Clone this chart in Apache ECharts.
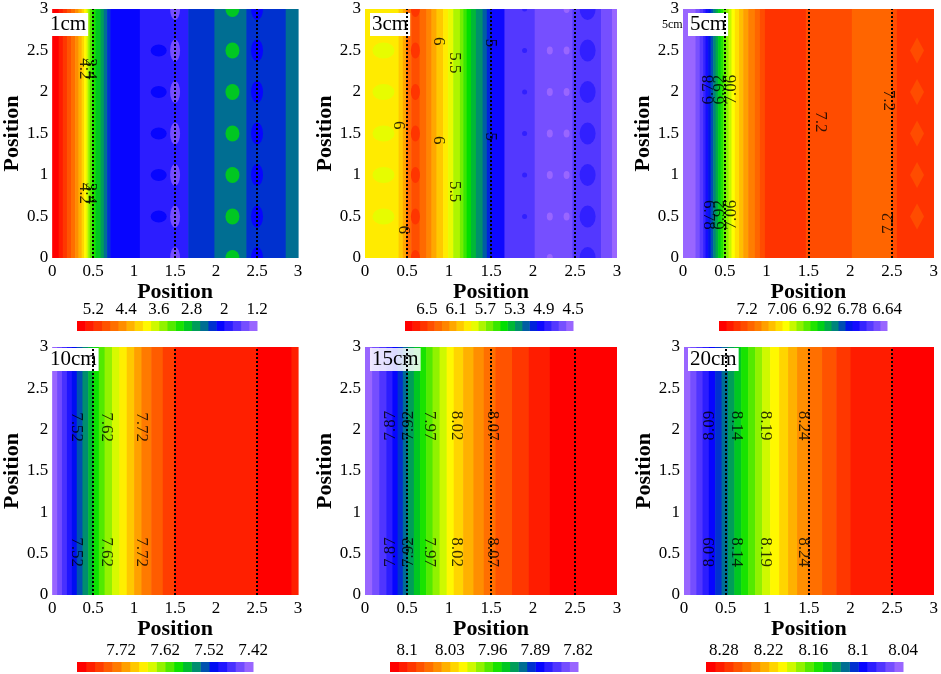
<!DOCTYPE html>
<html>
<head>
<meta charset="utf-8">
<title>Contours by depth</title>
<script src="https://cdn.jsdelivr.net/npm/echarts@6/dist/echarts.min.js"></script>
<style>
  html, body { margin: 0; padding: 0; background: #fff; }
  #chart { width: 941px; height: 674px; }
</style>
</head>
<body>
<div id="chart"></div>
<script>
// Panel names
const depths = ['1cm', '3cm', '5cm', '10cm', '15cm', '20cm'];

// Contour levels of each panel: [lowest, highest, step]
const levels1 = [1.2, 5.6, 0.2];
const levels2 = [4.5, 6.8, 0.1];
const levels3 = [6.64, 7.312, 0.028];
const levels4 = [7.42, 7.82, 0.02];
const levels5 = [7.82, 8.128, 0.014];
const levels6 = [8.04, 8.304, 0.012];

// Colour bar tick labels
const ticks1 = [5.2, 4.4, 3.6, 2.8, 2, 1.2];
const ticks2 = [6.5, 6.1, 5.7, 5.3, 4.9, 4.5];
const ticks3 = [7.2, 7.06, 6.92, 6.78, 6.64];
const ticks4 = [7.72, 7.62, 7.52, 7.42];
const ticks5 = [8.1, 8.03, 7.96, 7.89, 7.82];
const ticks6 = [8.28, 8.22, 8.16, 8.1, 8.04];

// Bands along x: edges and the value inside each band
const edges1 = [0, 0.08, 0.13, 0.18, 0.23, 0.28, 0.32, 0.36, 0.39, 0.42, 0.44, 0.46, 0.49, 0.53, 0.59, 0.63, 0.67, 0.71, 1.07, 1.66, 1.98, 2.37, 2.85, 3];
const vals1 = [5.5, 5.3, 5.1, 4.9, 4.7, 4.5, 4.3, 4.1, 3.9, 3.7, 3.5, 3.3, 3.1, 2.9, 2.7, 2.5, 2.3, 2.1, 1.9, 2.3, 2.5, 2.3, 2.5];

const edges2 = [0, 0.40, 0.45, 0.49, 0.55, 0.65, 0.73, 0.79, 0.85, 0.93, 0.99, 1.05, 1.13, 1.17, 1.21, 1.26, 1.32, 1.40, 1.45, 1.50, 1.66, 2.02, 2.47, 2.81, 2.94, 3];
const vals2 = [5.95, 6.05, 6.15, 6.35, 6.45, 6.35, 6.25, 6.15, 6.05, 5.95, 5.85, 5.75, 5.65, 5.55, 5.45, 5.35, 5.25, 5.15, 5.05, 4.95, 4.75, 4.65, 4.75, 4.65, 4.55];

const edges3 = [0, 0.15, 0.2, 0.24, 0.27, 0.30, 0.33, 0.36, 0.39, 0.42, 0.45, 0.48, 0.51, 0.545, 0.58, 0.62, 0.67, 0.72, 0.78, 0.86, 0.92, 0.98, 1.47, 2.02, 2.5, 2.56, 3];
const vals3 = [6.654, 6.682, 6.71, 6.738, 6.766, 6.794, 6.822, 6.85, 6.878, 6.906, 6.934, 6.962, 6.99, 7.018, 7.046, 7.074, 7.102, 7.13, 7.158, 7.186, 7.214, 7.242, 7.214, 7.186, 7.214, 7.242];

const edges4 = [0, 0.06, 0.12, 0.18, 0.24, 0.30, 0.37, 0.44, 0.50, 0.57, 0.64, 0.73, 0.82, 0.91, 1.00, 1.09, 1.21, 1.35, 1.49, 2.5, 2.92, 3];
const vals4 = [7.43, 7.45, 7.47, 7.49, 7.51, 7.53, 7.55, 7.57, 7.59, 7.61, 7.63, 7.65, 7.67, 7.69, 7.71, 7.73, 7.75, 7.77, 7.79, 7.81, 7.79];

const edges5 = [0, 0.084, 0.168, 0.252, 0.326, 0.388, 0.45, 0.511, 0.582, 0.655, 0.728, 0.804, 0.888, 0.972, 1.056, 1.168, 1.291, 1.414, 1.554, 1.75, 1.95, 2.2, 3];
const vals5 = [7.827, 7.841, 7.855, 7.869, 7.883, 7.897, 7.911, 7.925, 7.939, 7.953, 7.967, 7.981, 7.995, 8.009, 8.023, 8.037, 8.051, 8.065, 8.079, 8.093, 8.107, 8.121];

const edges6 = [0, 0.074, 0.149, 0.223, 0.298, 0.374, 0.451, 0.528, 0.604, 0.686, 0.77, 0.854, 0.938, 1.034, 1.142, 1.25, 1.358, 1.487, 1.658, 1.829, 2.0, 2.5, 3];
const vals6 = [8.046, 8.058, 8.07, 8.082, 8.094, 8.106, 8.118, 8.13, 8.142, 8.154, 8.166, 8.178, 8.19, 8.202, 8.214, 8.226, 8.238, 8.25, 8.262, 8.274, 8.286, 8.298];

// Local spots [x, y, value]
const spots1Green = [[2.2, 0, 2.9], [2.2, 0.5, 2.9], [2.2, 1, 2.9], [2.2, 1.5, 2.9], [2.2, 2, 2.9], [2.2, 2.5, 2.9], [2.2, 3, 2.9]];
const spots1Purple = [[1.5, 0, 1.5], [1.5, 0.5, 1.5], [1.5, 1, 1.5], [1.5, 1.5, 1.5], [1.5, 2, 1.5], [1.5, 2.5, 1.5], [1.5, 3, 1.5]];
const spots1Heart = [[1.3, 0.5, 2.1], [1.3, 1, 2.1], [1.3, 1.5, 2.1], [1.3, 2, 2.1], [1.3, 2.5, 2.1]];
const spots1Oval = [[2.5, 0, 2.1], [2.5, 0.5, 2.1], [2.5, 1, 2.1], [2.5, 1.5, 2.1], [2.5, 2, 2.1], [2.5, 2.5, 2.1], [2.5, 3, 2.1]];

const spots2Lime = [[0.22, 0.5, 5.85], [0.22, 1, 5.85], [0.22, 1.5, 5.85], [0.22, 2, 5.85], [0.22, 2.5, 5.85]];
const spots2Red = [[0.6, 0, 6.55], [0.6, 0.5, 6.55], [0.6, 1, 6.55], [0.6, 1.5, 6.55], [0.6, 2, 6.55], [0.6, 2.5, 6.55], [0.6, 3, 6.55]];
const spots2Dot = [[1.9, 0.5, 4.85], [1.9, 1, 4.85], [1.9, 1.5, 4.85], [1.9, 2, 4.85], [1.9, 2.5, 4.85], [1.9, 3, 4.85]];
const spots2Pale = [[2.2, 0.5, 4.55], [2.2, 1, 4.55], [2.2, 1.5, 4.55], [2.2, 2, 4.55], [2.2, 2.5, 4.55], [2.2, 0, 4.55],
                    [2.4, 0.5, 4.55], [2.4, 1, 4.55], [2.4, 1.5, 4.55], [2.4, 2, 4.55], [2.4, 2.5, 4.55], [2.4, 3, 4.55]];
const spots2Oval = [[2.65, 0, 4.85], [2.65, 0.5, 4.85], [2.65, 1, 4.85], [2.65, 1.5, 4.85], [2.65, 2, 4.85], [2.65, 2.5, 4.85], [2.65, 3, 4.85]];

const spots3Diamond = [[2.8, 0.5, 7.214], [2.8, 1, 7.214], [2.8, 1.5, 7.214], [2.8, 2, 7.214], [2.8, 2.5, 7.214]];

// Contour labels [x, y, text, reads upward]
const labels1 = [[0.39, 2.28, '4.2', 0], [0.47, 2.28, '3.4', 0], [0.39, 0.78, '4.2', 0], [0.47, 0.78, '3.4', 0]];
const labels2 = [[0.46, 0.34, '6', 0], [0.40, 1.60, '6', 0], [0.87, 2.61, '6', 0], [0.87, 1.42, '6', 0],
                 [1.07, 2.35, '5.5', 0], [1.07, 0.80, '5.5', 0], [1.49, 2.59, '5', 0], [1.49, 1.46, '5', 0]];
const labels3 = [[0.30, 2.03, '6.78', 1], [0.44, 2.03, '6.92', 1], [0.58, 2.03, '7.06', 1],
                 [0.30, 0.52, '6.78', 0], [0.44, 0.52, '6.92', 1], [0.58, 0.52, '7.06', 1],
                 [1.65, 1.64, '7.2', 0], [2.46, 1.90, '7.2', 0], [2.46, 0.42, '7.2', 1]];
const labels4 = [[0.30, 2.03, '7.52', 0], [0.66, 2.03, '7.62', 0], [1.09, 2.03, '7.72', 0],
                 [0.30, 0.52, '7.52', 0], [0.66, 0.52, '7.62', 0], [1.09, 0.52, '7.72', 0]];
const labels5 = [[0.30, 2.05, '7.87', 1], [0.52, 2.05, '7.92', 1], [0.77, 2.05, '7.97', 0], [1.09, 2.05, '8.02', 0], [1.52, 2.05, '8.07', 0],
                 [0.30, 0.52, '7.87', 1], [0.52, 0.52, '7.92', 1], [0.77, 0.52, '7.97', 0], [1.09, 0.52, '8.02', 0], [1.52, 0.52, '8.07', 0]];
const labels6 = [[0.31, 2.05, '8.09', 1], [0.63, 2.05, '8.14', 0], [0.98, 2.05, '8.19', 0], [1.43, 2.05, '8.24', 0],
                 [0.31, 0.52, '8.09', 1], [0.63, 0.52, '8.14', 0], [0.98, 0.52, '8.19', 0], [1.43, 0.52, '8.24', 0]];

// Dotted guide lines
const dottedX = [0.5, 1.5, 2.5];

const FONT = "'Liberation Serif', 'Times New Roman', serif";

// rainbow used by all colour bars, low -> high
const palette = [[0, '#9966ff'], [0.2, '#0000ff'], [0.3, '#008080'], [0.41, '#00e000'], [0.61, '#ffff00'], [0.78, '#ff8000'], [1, '#ff0000']];

function hexRgb(h) {
    return [parseInt(h.slice(1, 3), 16), parseInt(h.slice(3, 5), 16), parseInt(h.slice(5, 7), 16)];
}

function colorAt(t) {
    let i = 0;
    while (i < palette.length - 2 && t > palette[i + 1][0]) i++;
    const a = palette[i], b = palette[i + 1];
    const f = Math.max(0, Math.min(1, (t - a[0]) / (b[0] - a[0])));
    const ca = hexRgb(a[1]), cb = hexRgb(b[1]);
    return 'rgb(' + [0, 1, 2].map(k => Math.round(ca[k] + (cb[k] - ca[k]) * f)).join(',') + ')';
}

const panels = [
    { name: depths[0], levels: levels1, ticks: ticks1, edges: edges1, vals: vals1, labels: labels1,
      spots: [{ data: spots1Green, size: [14, 16] }, { data: spots1Heart, size: [16, 12] },
              { data: spots1Oval, size: [12, 22] }, { data: spots1Purple, size: [10, 22] }],
      grid: [45, 9, 253, 249], bar: [77, 321, 180], tag: [48, 13], tagBg: '#fff' },
    { name: depths[1], levels: levels2, ticks: ticks2, edges: edges2, vals: vals2, labels: labels2,
      spots: [{ data: spots2Lime, size: [22, 16] }, { data: spots2Red, size: [9, 16] }, { data: spots2Dot, size: [5, 5] },
              { data: spots2Pale, size: [6, 8] }, { data: spots2Oval, size: [16, 22] }],
      grid: [365, 9, 252, 249], bar: [405, 321, 168], tag: [370, 13], tagBg: '#fff' },
    { name: depths[2], levels: levels3, ticks: ticks3, edges: edges3, vals: vals3, labels: labels3,
      spots: [{ data: spots3Diamond, size: [14, 26], symbol: 'diamond' }],
      grid: [683, 9, 252, 249], bar: [719, 321, 168], tag: [688, 13], tagBg: '#fff' },
    { name: depths[3], levels: levels4, ticks: ticks4, edges: edges4, vals: vals4, labels: labels4, spots: [],
      grid: [47, 347, 251, 248], bar: [77, 662, 176], tag: [48, 348], tagBg: '#fff' },
    { name: depths[4], levels: levels5, ticks: ticks5, edges: edges5, vals: vals5, labels: labels5, spots: [],
      grid: [365, 347, 252, 248], bar: [390, 662, 188], tag: [370, 348], tagBg: 'rgba(255,255,255,0.85)' },
    { name: depths[5], levels: levels6, ticks: ticks6, edges: edges6, vals: vals6, labels: labels6, spots: [],
      grid: [684, 347, 252, 248], bar: [706, 662, 197], tag: [688, 348], tagBg: '#fff' }
];

const option = {
    animation: false,
    backgroundColor: '#fff',
    title: [], grid: [], xAxis: [], yAxis: [], visualMap: [], series: [],
    graphic: {
        elements: [{ type: 'text', left: 662, top: 19, z: 3,
                     style: { text: '5cm', font: '12px ' + FONT, fill: '#000' } }]
    }
};

function renderStripe(params, api) {
    const p0 = api.coord([api.value(0), 3]);
    const p1 = api.coord([api.value(1), 0]);
    return {
        type: 'rect',
        shape: { x: p0[0], y: p0[1], width: p1[0] - p0[0] + 0.6, height: p1[1] - p0[1] },
        style: { fill: api.visual('color') }
    };
}

// spot shapes, clipped to the plot by the custom series
function spotRenderer(size, symbol) {
    return function (params, api) {
        const c = api.coord([api.value(0), api.value(1)]);
        const rx = size[0] / 2, ry = size[1] / 2;
        const fill = api.visual('color');
        if (symbol === 'diamond') {
            return { type: 'polygon', shape: { points: [[c[0], c[1] - ry], [c[0] + rx, c[1]], [c[0], c[1] + ry], [c[0] - rx, c[1]]] },
                     style: { fill: fill } };
        }
        return { type: 'circle', shape: { cx: 0, cy: 0, r: 1 }, x: c[0], y: c[1], scaleX: rx, scaleY: ry,
                 style: { fill: fill } };
    };
}

function renderBarCell(params, api) {
    const p0 = api.coord([api.value(0), 1]);
    const p1 = api.coord([api.value(1), 0]);
    const x = Math.min(p0[0], p1[0]);
    return {
        type: 'rect',
        shape: { x: x, y: p0[1], width: Math.abs(p1[0] - p0[0]) + 0.5, height: p1[1] - p0[1] },
        style: { fill: api.visual('color') }
    };
}

panels.forEach(p => {
    const lo = p.levels[0], hi = p.levels[1], step = p.levels[2];
    const n = Math.round((hi - lo) / step);

    // main plot
    const gi = option.grid.length;
    option.grid.push({ left: p.grid[0], top: p.grid[1], width: p.grid[2], height: p.grid[3] });
    option.xAxis.push({
        gridIndex: gi, type: 'value', min: 0, max: 3, interval: 0.5,
        axisLine: { show: false }, axisTick: { show: false }, splitLine: { show: false },
        axisLabel: { color: '#000', fontSize: 17, fontFamily: FONT, margin: 5 },
        name: 'Position', nameLocation: 'middle', nameGap: 21,
        nameTextStyle: { color: '#000', fontSize: 22, fontWeight: 'bold', fontFamily: FONT }
    });
    option.yAxis.push({
        gridIndex: gi, type: 'value', min: 0, max: 3, interval: 0.5,
        axisLine: { show: false }, axisTick: { show: false }, splitLine: { show: false },
        axisLabel: { color: '#000', fontSize: 17, fontFamily: FONT, margin: 4 },
        name: 'Position', nameLocation: 'middle', nameGap: 22,
        nameTextStyle: { color: '#000', fontSize: 22, fontWeight: 'bold', fontFamily: FONT }
    });

    // colour bar
    const bi = option.grid.length;
    option.grid.push({ left: p.bar[0], top: p.bar[1], width: p.bar[2], height: 10 });
    option.xAxis.push({
        gridIndex: bi, type: 'value', position: 'top', inverse: true, min: lo, max: hi,
        axisLine: { show: false }, axisTick: { show: false }, splitLine: { show: false },
        axisLabel: { customValues: p.ticks, color: '#000', fontSize: 17, fontFamily: FONT, margin: 3 }
    });
    option.yAxis.push({ gridIndex: bi, type: 'value', min: 0, max: 1, show: false });

    const mapped = [];

    const stripes = [];
    for (let i = 0; i < p.vals.length; i++) stripes.push([p.edges[i], p.edges[i + 1], p.vals[i]]);
    mapped.push(option.series.length);
    option.series.push({
        type: 'custom', xAxisIndex: gi, yAxisIndex: gi, z: 1, silent: true, clip: true,
        encode: { x: [0, 1] }, renderItem: renderStripe, data: stripes
    });

    p.spots.forEach(s => {
        mapped.push(option.series.length);
        option.series.push({
            type: 'custom', xAxisIndex: gi, yAxisIndex: gi, z: 2, silent: true, clip: true,
            encode: { x: 0, y: 1 }, renderItem: spotRenderer(s.size, s.symbol), data: s.data
        });
    });

    option.series.push({
        type: 'scatter', xAxisIndex: gi, yAxisIndex: gi, z: 6, silent: true,
        symbolSize: 0.1, itemStyle: { color: 'transparent' },
        label: { show: true, position: 'inside', formatter: q => q.data.value[2],
                 fontFamily: FONT, fontSize: 17, color: '#000' },
        data: p.labels.map(l => ({ value: [l[0], l[1], l[2]], label: { rotate: l[3] ? 90 : -90 } })),
        markLine: {
            silent: true, symbol: 'none', label: { show: false }, animation: false,
            lineStyle: { type: 'dotted', color: '#000', width: 2 },
            data: dottedX.map(x => ({ xAxis: x }))
        }
    });

    const cells = [];
    for (let k = 0; k < n; k++) cells.push([lo + k * step, lo + (k + 1) * step, lo + (k + 0.5) * step]);
    mapped.push(option.series.length);
    option.series.push({
        type: 'custom', xAxisIndex: bi, yAxisIndex: bi, silent: true,
        encode: { x: [0, 1] }, renderItem: renderBarCell, data: cells
    });

    const pieces = [];
    for (let k = 0; k < n; k++) {
        const piece = { gte: lo + k * step, color: colorAt(k / (n - 1)) };
        if (k < n - 1) piece.lt = lo + (k + 1) * step; else piece.lte = hi + step;
        pieces.push(piece);
    }
    option.visualMap.push({ type: 'piecewise', show: false, dimension: 2, seriesIndex: mapped, pieces: pieces });

    option.title.push({
        text: p.name, left: p.tag[0], top: p.tag[1], padding: [1, 2], backgroundColor: p.tagBg, z: 4,
        textStyle: { color: '#000', fontSize: 21, fontWeight: 'normal', fontFamily: FONT }
    });
});

const chart = echarts.init(document.getElementById('chart'));
chart.setOption(option);
</script>
</body>
</html>
